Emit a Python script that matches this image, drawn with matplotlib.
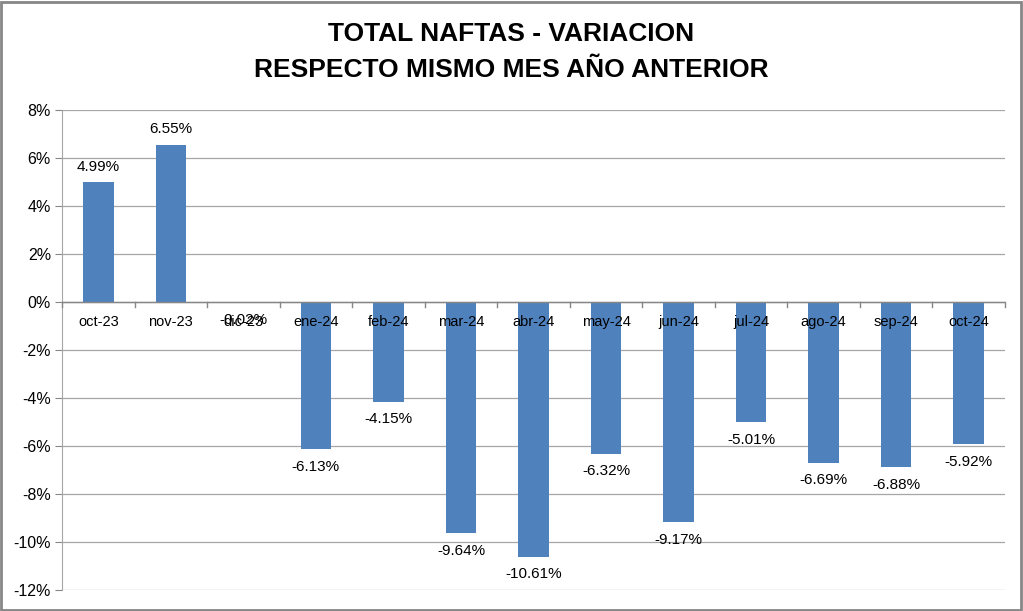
import matplotlib.pyplot as plt
from matplotlib.ticker import FuncFormatter
from matplotlib.patches import Rectangle

# data
meses = ['oct-23', 'nov-23', 'dic-23', 'ene-24', 'feb-24', 'mar-24', 'abr-24',
         'may-24', 'jun-24', 'jul-24', 'ago-24', 'sep-24', 'oct-24']
variacion = [4.99, 6.55, -0.02, -6.13, -4.15, -9.64, -10.61,
             -6.32, -9.17, -5.01, -6.69, -6.88, -5.92]

plt.rcParams['font.family'] = ['Liberation Sans', 'DejaVu Sans']

fig = plt.figure(figsize=[10.23, 6.11], dpi=100)
ax = fig.add_axes([62 / 1023, 21 / 611, 943 / 1023, 480 / 611])

x = list(range(len(meses)))
ax.bar(x, variacion, width=0.42, color='#4f81bd', zorder=3)

ax.set_ylim(-12, 8)
ax.set_xlim(-0.5, len(meses) - 0.5)
ax.set_yticks(range(-12, 9, 2))
ax.yaxis.set_major_formatter(FuncFormatter(lambda v, p: f'{v:.0f}%'))
ax.tick_params(axis='y', labelsize=11.5, length=5, color='#868686', pad=3)
ax.grid(axis='y', color='#a6a6a6', linewidth=0.9, zorder=0)

# x axis drawn at zero
ax.set_xticks([])
ax.axhline(0, color='#868686', linewidth=1, zorder=4)
for b in range(len(meses) + 1):
    ax.plot([b - 0.5, b - 0.5], [0, -0.22], color='#868686', linewidth=1,
            clip_on=False, zorder=4)
for i, m in enumerate(meses):
    ax.text(i, -0.55, m, ha='center', va='top', fontsize=10.5)

# data labels
for i, v in enumerate(variacion):
    if v >= 0:
        ax.text(i, v + 0.35, f'{v:.2f}%', ha='center', va='bottom', fontsize=11)
    else:
        ax.text(i, v - 0.45, f'{v:.2f}%', ha='center', va='top', fontsize=11)

for s in ['top', 'right', 'bottom']:
    ax.spines[s].set_visible(False)
ax.spines['left'].set_color('#a6a6a6')

fig.text(0.5, 0.945, 'TOTAL NAFTAS - VARIACION', ha='center', va='center',
         fontsize=19, fontweight='bold')
fig.text(0.5, 0.885, 'RESPECTO MISMO MES AÑO ANTERIOR', ha='center', va='center',
         fontsize=19, fontweight='bold')

fig.patches.append(Rectangle((0.001, 0.002), 0.997, 0.995, transform=fig.transFigure,
                             fill=False, edgecolor='#868686', linewidth=2))

fig.savefig('out.png', dpi=100)
